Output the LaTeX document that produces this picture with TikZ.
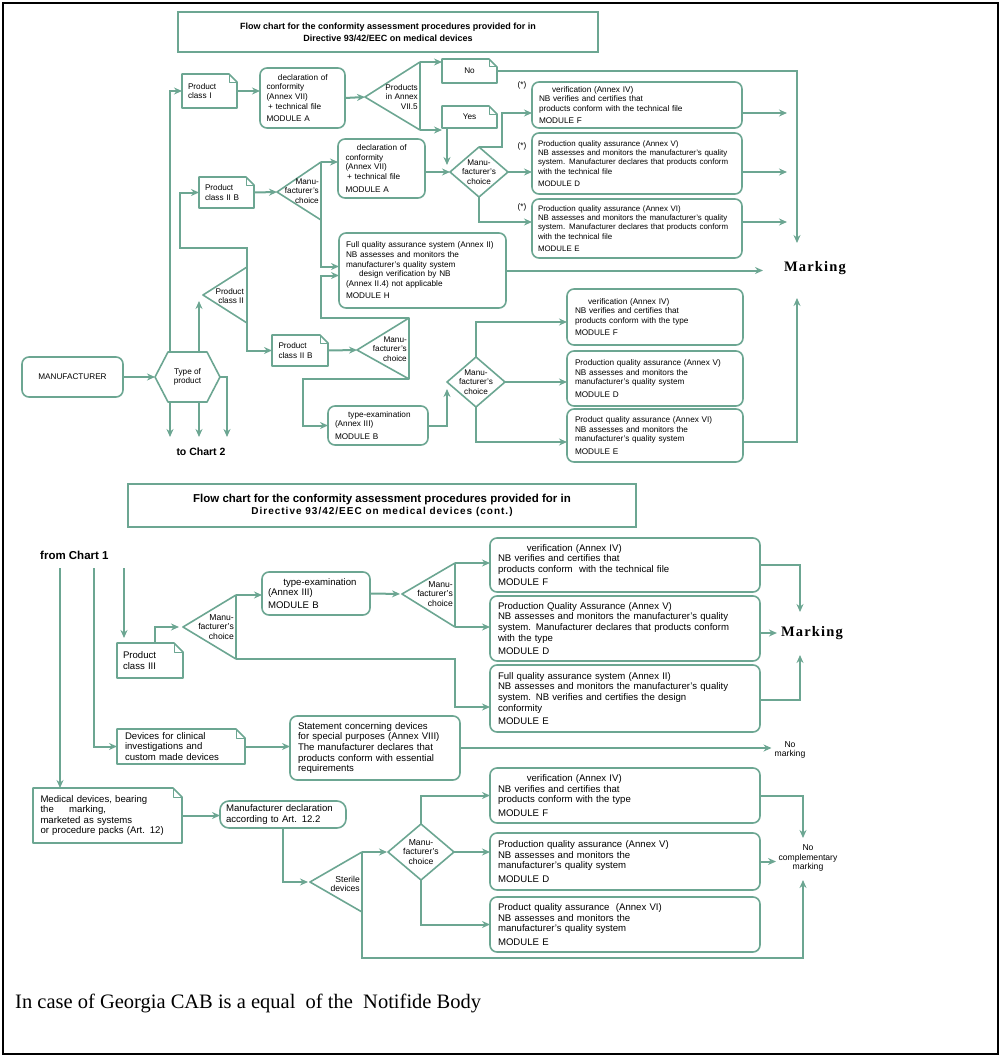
\documentclass[tikz,border=0pt]{standalone}
\usepackage{fontspec}
\setmainfont{Liberation Serif}
\setsansfont{Liberation Sans}
\usetikzlibrary{arrows.meta}
\hyphenpenalty=10000
\exhyphenpenalty=10000
\definecolor{gr}{RGB}{108,166,146}
\newcommand\chA{\sffamily\fontsize{8.2}{9.6}\selectfont}
\newcommand\chAs{\sffamily\fontsize{7.9}{9.3}\selectfont}
\newcommand\chB{\sffamily\fontsize{9.6}{10.6}\selectfont}
\newcommand\chC{\sffamily\fontsize{8.6}{9.6}\selectfont}
\newcommand\mkfont{\rmfamily\bfseries\fontsize{14.5}{16}\selectfont\addfontfeature{LetterSpace=8}}
\tikzset{
 shp/.style={draw=gr, line width=1.6pt, line join=round},
 ln/.style={draw=gr, line width=2pt},
 arr/.style={ln, -{Stealth[length=8pt,width=7pt]}},
 rbox/.style={shp, rounded corners=7pt, align=left},
 tbox/.style={align=left},
 tritxt/.style={inner sep=0pt, align=right, anchor=east},
 ttl/.style={draw=gr, line width=1.2pt, align=center},
}
% box from (x1,y1) to (x2,y2)
\newcommand\bx[7][]{%
 \pgfmathsetmacro\bxcx{(#3+#5)/2}\pgfmathsetmacro\bxcy{(#4+#6)/2}%
 \pgfmathsetmacro\bxw{#5-#3}\pgfmathsetmacro\bxh{#6-#4}%
 \node[inner sep=0pt, outer sep=0pt, minimum width=\bxw pt, minimum height=\bxh pt, #1] (#2) at (\bxcx,\bxcy) {#7};}
\newcommand\mydoc[2][8]{%
 \draw[shp] (#2.north west) -- ([xshift=-#1pt]#2.north east) -- ([yshift=-#1pt]#2.north east) -- (#2.south east) -- (#2.south west) -- cycle;
 \draw[shp, line width=1pt] ([xshift=-#1pt]#2.north east) -- ([xshift=-#1pt,yshift=-#1pt]#2.north east) -- ([yshift=-#1pt]#2.north east);}
\newcommand\mytri[6]{%
 \coordinate (#1a) at (#2,#3);
 \coordinate (#1t) at (#4,#5);
 \coordinate (#1b) at (#4,#6);
 \draw[shp] (#1a) -- (#1t) -- (#1b) -- cycle;}
\newcommand\mydia[6]{%
 \coordinate (#1l) at ({#2-#4},#3);
 \coordinate (#1r) at ({#2+#4},#3);
 \coordinate (#1t) at (#2,{#3-#5});
 \coordinate (#1b) at (#2,{#3+#5});
 \draw[shp] (#1l) -- (#1t) -- (#1r) -- (#1b) -- cycle;
 \node[font=#6, align=center, inner sep=0pt] (#1) at (#2,#3) {Manu-\\facturer's\\choice};}
\begin{document}
\begin{tikzpicture}[x=1pt,y=-1pt]
\useasboundingbox (0,0) rectangle (1001,1057);
\draw[black, line width=2.5pt] (3,3) rectangle (998,1054);

%================ CHART 1 ================
\bx[ttl, font=\sffamily\bfseries\fontsize{9}{12}\selectfont]{title1}{178}{12}{598}{52}
 {Flow chart for the conformity assessment procedures provided for in\\Directive 93/42/EEC on medical devices}

\bx[tbox, text width=43pt, font=\chA]{PC1}{182}{74}{237}{108}{Product\\class I}
\mydoc{PC1}
\bx[rbox, text width=72pt, font=\chA]{A1}{260}{68}{345}{128}
 {\hspace*{1.4em}declaration of\\conformity\\(Annex VII)\\\hspace*{0.2em}+ technical file\\[3pt]MODULE A}
\mytri{T1}{365}{97}{420}{62}{130}
\node[tritxt, font=\chA] (T1x) at (418,97) {Products\\in Annex\\VII.5};
\bx[tbox, align=center, text width=40pt, font=\chA]{No}{442}{59}{497}{83}{No}
\mydoc{No}
\bx[tbox, align=center, text width=40pt, font=\chA]{Yes}{442}{106}{497}{128}{Yes}
\mydoc{Yes}

\bx[rbox, text width=196pt, font=\chA]{F1}{532}{82}{742}{128}
 {\hspace*{1.6em}verification (Annex IV)\\NB verifies and certifies that\\products conform with the technical file\\[3pt]MODULE F}
\bx[rbox, text width=198pt, font=\chAs]{D1x}{532}{133}{742}{194}
 {Production quality assurance (Annex V)\\NB assesses and monitors the manufacturer's quality\\system. Manufacturer declares that products conform\\with the technical file\\[3pt]MODULE D}
\bx[rbox, text width=198pt, font=\chAs]{E1}{532}{199}{742}{258}
 {Production quality assurance (Annex VI)\\NB assesses and monitors the manufacturer's quality\\system. Manufacturer declares that products conform\\with the technical file\\[3pt]MODULE E}
\node[font=\chA, inner sep=0pt] (s1) at (522,85) {(*)};
\node[font=\chA, inner sep=0pt] (s2) at (522,146) {(*)};
\node[font=\chA, inner sep=0pt] (s3) at (522,207) {(*)};

\mydia{D1}{479}{172}{29}{25}{\chA}
\bx[rbox, text width=72pt, font=\chA]{A2}{338}{139}{425}{198}
 {\hspace*{1.4em}declaration of\\conformity\\(Annex VII)\\\hspace*{0.2em}+ technical file\\[3pt]MODULE A}
\bx[tbox, text width=43pt, font=\chA]{PC2B}{199}{177}{254}{208}{Product\\class II B}
\mydoc{PC2B}
\mytri{T3}{277}{192}{321}{162}{220}
\node[tritxt, font=\chA] (T3x) at (319,191) {Manu-\\facturer's\\choice};
\bx[rbox, text width=153pt, font=\chA]{MH}{339}{233}{506}{308}
 {Full quality assurance system (Annex II)\\NB assesses and monitors the\\manufacturer's quality system\\\hspace*{1.6em}design verification by NB\\(Annex II.4) not applicable\\[3pt]MODULE H}
\node[font=\mkfont, inner sep=0pt] (M1) at (815,268) {Marking};
\coordinate (M1t) at (797,243);
\coordinate (M1b) at (797,298);
\coordinate (M1l) at (763,270.5);

\mytri{T2}{203}{295}{247}{267}{323}
\node[tritxt, font=\chA] (T2x) at (244,296) {Product\\class II};
\bx[rbox, align=center, font=\chA]{MAN}{22}{357}{123}{397}{MANUFACTURER}
\coordinate (HXl) at (155,377);
\coordinate (HXr) at (220,377);
\draw[shp] (HXl) -- (168,352) -- (207,352) -- (HXr) -- (207,402) -- (168,402) -- cycle;
\node[font=\chA, align=center, inner sep=0pt] (HX) at (187.5,377) {Type of\\product};
\coordinate (HXa) at (170,352);
\coordinate (HXb) at (199,352);
\coordinate (HXc) at (170,402);
\coordinate (HXd) at (199,402);
\coordinate (T2in) at (199,301);
\bx[tbox, text width=43pt, font=\chA]{PC2L}{272}{335}{328}{366}{Product\\class II B}
\mydoc{PC2L}
\mytri{T4}{357}{350}{409}{318}{379}
\node[tritxt, font=\chA] (T4x) at (407,349) {Manu-\\facturer's\\choice};
\bx[rbox, text width=86pt, font=\chA]{TE}{328}{406}{428}{445}
 {\hspace*{1.6em}type-examination\\(Annex III)\\[3pt]MODULE B}
\mydia{D2}{476}{382}{29}{25}{\chA}
\coordinate (D2in) at (447,389);
\bx[rbox, text width=160pt, font=\chA]{F2}{567}{289}{743}{345}
 {\hspace*{1.6em}verification (Annex IV)\\NB verifies and certifies that\\products conform with the type\\[3pt]MODULE F}
\bx[rbox, text width=160pt, font=\chA]{D2x}{567}{351}{743}{406}
 {Production quality assurance (Annex V)\\NB assesses and monitors the\\manufacturer's quality system\\[3pt]MODULE D}
\bx[rbox, text width=160pt, font=\chA]{E2}{567}{409}{743}{462}
 {Product quality assurance (Annex VI)\\NB assesses and monitors the\\manufacturer's quality system\\[3pt]MODULE E}
\node[font=\sffamily\bfseries\fontsize{10.5}{12}\selectfont, inner sep=0pt] (toC2) at (201,452) {to Chart 2};

% connectors chart 1
\draw[arr] (MAN.east) -- (HXl);
\draw[arr] (HXa) |- (PC1.west);
\draw[arr] (HXb) -- (T2in);
\draw[arr] (HXc) -- ++(0,35);
\draw[arr] (HXd) -- ++(0,35);
\draw[arr] (HXr) -- ++(7,0) -- ++(0,60);
\draw[arr] (T2t) -- ++(0,-19) -| ([xshift=-19pt]PC2B.west) -- (PC2B.west);
\draw[arr] (T2b) |- (PC2L.west);
\draw[arr] (PC1.east) -- (PC1.east -| A1.west);
\draw[arr] (A1.east) -- (T1a);
\draw[arr] (T1t) -- (T1t -| No.west);
\draw[arr] (T1b) -- (T1b -| Yes.west);
\draw[arr] (No.east) -| (M1t);
\draw[arr] ([xshift=5pt]Yes.south west) -- ++(0,37);
\draw[arr] (PC2B.east) -- (T3a);
\draw[arr] (T3t) -- (T3t -| A2.west);
\draw[arr] (T3b) |- ([yshift=4pt]MH.west);
\draw[arr] (A2.east |- D1l) -- (D1l);
\draw[arr] (D1t) -- ++(23,0) |- ([yshift=-8pt]F1.west);
\draw[arr] (D1r) -- (D1r -| D1x.west);
\draw[arr] (D1b) |- ([yshift=6.5pt]E1.west);
\draw[arr] ([yshift=-8pt]F1.east) -- ++(45,0);
\draw[arr] ([yshift=-8.5pt]D1x.east) -- ++(45,0);
\draw[arr] ([yshift=6.5pt]E1.east) -- ++(45,0);
\draw[arr] (MH.east) -- (M1l);
\draw[arr] (PC2L.east) -- (T4a);
\draw[arr] (T4t) -| ([xshift=-18pt,yshift=-5pt]MH.west) -- ([yshift=-5pt]MH.west);
\draw[arr] (T4b) -| ([xshift=-25pt]TE.west) -- (TE.west);
\draw[arr] (TE.east) -| (D2in);
\draw[arr] (D2t) |- ([yshift=-5pt]F2.west);
\draw[arr] (D2r) -- (D2r -| D2x.west);
\draw[arr] (D2b) |- ([yshift=-6.5pt]E2.west);
\draw[arr] ([yshift=-6.5pt]E2.east) -| (M1b);

%================ CHART 2 ================
\bx[ttl]{title2}{128}{484}{636}{527}
 {{\sffamily\bfseries\fontsize{11.5}{14}\selectfont Flow chart for the conformity assessment procedures provided for in}\\
  {\sffamily\bfseries\fontsize{10}{12}\selectfont\addfontfeature{LetterSpace=10}Directive 93/42/EEC on medical devices (cont.)}}
\node[anchor=west, inner sep=0pt, font=\sffamily\bfseries\fontsize{11.5}{13}\selectfont] (fromC1) at (40,555) {from Chart 1};
\coordinate (L1) at (60,568);
\coordinate (L2) at (94,568);
\coordinate (L3) at (124,568);

\bx[tbox, text width=54pt, font=\chB]{PC3}{117}{643}{183}{678}{Product\\class III}
\mydoc[9]{PC3}
\mytri{T5}{183}{627}{236}{595}{659}
\node[tritxt, font=\chC] (T5x) at (234,627) {Manu-\\facturer's\\choice};
\bx[rbox, text width=96pt, font=\chB]{B2}{262}{572}{370}{615}
 {\hspace*{1.6em}type-examination\\(Annex III)\\[2pt]MODULE B}
\mytri{T6}{402}{594}{455}{563}{627}
\node[tritxt, font=\chC] (T6x) at (453,594) {Manu-\\facturer's\\choice};
\bx[rbox, text width=254pt, font=\chB]{F4}{490}{538}{760}{592}
 {\hspace*{3em}verification (Annex IV)\\NB verifies and certifies that\\products conform\ \ with the technical file\\[3pt]MODULE F}
\bx[rbox, text width=254pt, font=\chB]{D4}{490}{596}{760}{661}
 {Production Quality Assurance (Annex V)\\NB assesses and monitors the manufacturer's quality\\system. Manufacturer declares that products conform\\with the type\\[3pt]MODULE D}
\bx[rbox, text width=254pt, font=\chB]{E4}{490}{665}{760}{732}
 {Full quality assurance system (Annex II)\\NB assesses and monitors the manufacturer's quality\\system. NB verifies and certifies the design\\conformity\\[3pt]MODULE E}
\node[font=\mkfont, inner sep=0pt] (M2) at (812,633) {Marking};
\coordinate (M2t) at (800,612);
\coordinate (M2b) at (800,655);

\bx[tbox, text width=112pt, font=\chB]{DC}{117}{729}{245}{764}
 {Devices for clinical\\investigations and\\custom made devices}
\mydoc[9]{DC}
\bx[rbox, text width=154pt, font=\chB]{ST}{290}{716}{460}{780}
 {Statement concerning devices\\for special purposes (Annex VIII)\\The manufacturer declares that\\products conform with essential\\requirements}
\node[font=\chC, align=center, inner sep=0pt] (NM) at (790,750) {No\\marking};

\bx[tbox, text width=134pt, font=\chB]{MD}{33}{788}{182}{843}
 {Medical devices, bearing\\the\hspace{1.6em}marking,\\marketed as systems\\or procedure packs (Art. 12)}
\mydoc[9]{MD}
\bx[rbox, rounded corners=9pt, text width=114pt, font=\chB]{MDC}{220}{801}{346}{828}
 {Manufacturer declaration\\according to Art. 12.2}
\mytri{T7}{310}{882}{362}{852}{912}
\node[tritxt, font=\chC] (T7x) at (360,884) {Sterile\\devices};
\mydia{D3}{421}{852}{33}{28}{\chC}
\bx[rbox, text width=254pt, font=\chB]{F3}{490}{768}{760}{823}
 {\hspace*{3em}verification (Annex IV)\\NB verifies and certifies that\\products conform with the type\\[3pt]MODULE F}
\bx[rbox, text width=254pt, font=\chB]{D3x}{490}{833}{760}{890}
 {Production quality assurance (Annex V)\\NB assesses and monitors the\\manufacturer's quality system\\[3pt]MODULE D}
\bx[rbox, text width=254pt, font=\chB]{E3}{490}{897}{760}{952}
 {Product quality assurance\ \ (Annex VI)\\NB assesses and monitors the\\manufacturer's quality system\\[3pt]MODULE E}
\node[font=\chC, align=center, inner sep=0pt] (NCM) at (808,858) {No\\complementary\\marking};
\coordinate (M3t) at (803,838);
\coordinate (M3b) at (803,880);

% connectors chart 2
\draw[arr] (L1) -- (L1 |- MD.north);
\draw[arr] (L2) |- (DC.west);
\draw[arr, shorten >=5pt] (L3) -- (L3 |- PC3.north);
\draw[arr, shorten >=4pt] ([xshift=38pt]PC3.north west) |- (T5a);
\draw[arr] (T5t) -- (T5t -| B2.west);
\draw[arr] (T5b) -- (T5b -| T6b) |- ([yshift=-8.5pt]E4.west);
\draw[arr, shorten >=2pt] (B2.east) -- (T6a);
\draw[arr] (T6t) -- (T6t -| F4.west);
\draw[arr] (T6b) -- (T6b -| D4.west);
\draw[arr] (F4.east) -| (M2t);
\draw[arr] (D4.east |- M2) -- ([xshift=-4pt]M2.west);
\draw[arr] ([yshift=-1.5pt]E4.east) -| (M2b);
\draw[arr] (DC.east) -- (DC.east -| ST.west);
\draw[arr, shorten >=3pt] (ST.east) -- (ST.east -| NM.west);
\draw[arr] (MD.east) -- (MD.east -| MDC.west);
\draw[arr, shorten >=2pt] ([xshift=63pt]MDC.south west) |- (T7a);
\draw[arr, shorten >=1pt] (T7t) -- (D3l);
\draw[arr] (D3t) |- (F3.west);
\draw[arr] (D3r) -- (D3r -| D3x.west);
\draw[arr] (D3b) |- (E3.west);
\draw[arr] (F3.east) -| (M3t);
\draw[arr] (D3x.east) -- ++(16,0);
\draw[arr] (T7b) -- ++(0,46) -| (M3b);

\node[anchor=base west, inner sep=0pt, font=\rmfamily\fontsize{20.5}{24}\selectfont] (note) at (15,1008)
 {In case of Georgia CAB is a equal\ \ of the\ \ Notifide Body};
\end{tikzpicture}
\end{document}
